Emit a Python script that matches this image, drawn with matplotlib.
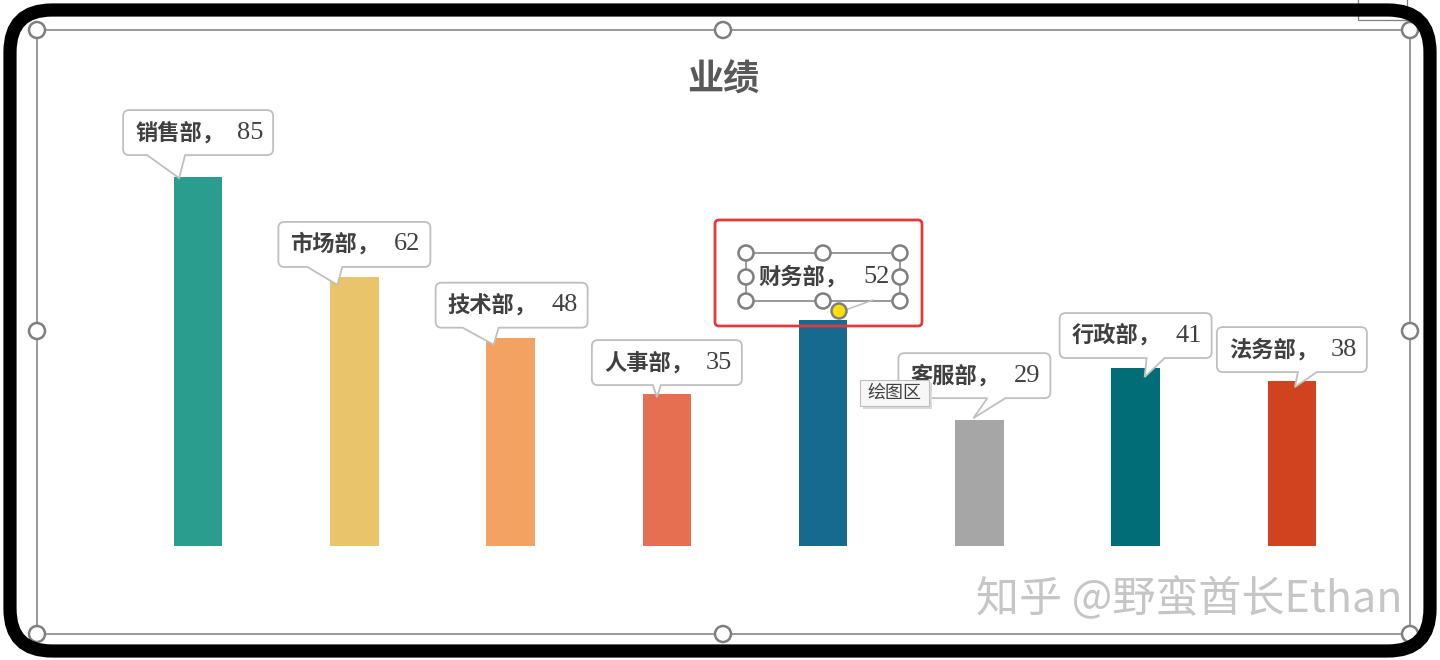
import matplotlib
matplotlib.use("Agg")
import matplotlib.pyplot as plt
from matplotlib.path import Path
from matplotlib.patches import PathPatch, Circle, Rectangle, FancyBboxPatch
from matplotlib import transforms

plt.rcParams['font.family'] = ['Noto Sans CJK SC', 'DejaVu Sans']

title = "业绩"
departments = ["销售部", "市场部", "技术部", "人事部", "财务部", "客服部", "行政部", "法务部"]
scores = [85, 62, 48, 35, 52, 29, 41, 38]
bar_colors = ["#2A9D8F", "#E9C46A", "#F4A261", "#E76F51",
              "#176A8F", "#A6A6A6", "#006D77", "#D1431F"]

# callout geometry in pixels, relative to the top centre of each bar
# (box left, box right, gap above bar, tail base left, tail base right, tip x, tip y)
callouts = [
    (-75, 75, 22, -51, -13, -19, -1),
    (-76, 76, 10, -47, -12, -17, -8),
    (-75, 77, 10, -48, -12, -17, -7),
    (-75, 75, 9, -14, -6, -10, -3),
    (-77, 77, 19, None, None, None, None),   # selected label, no box drawn
    (-81, 71, 22, 8, 26, -6, 2),
    (-76, 76, 10, 11, 29, 9, -9),
    (-75, 75, 9, 6, 25, 3, -6),
]
BOX_H = 45
TEXT_C = "#404040"
GREY = "#7F7F7F"


def callout_path(l, r, b, b0, b1, tx, ty, h=BOX_H, rad=6):
    t = b + h
    M, L, C, Z = Path.MOVETO, Path.LINETO, Path.CURVE3, Path.CLOSEPOLY
    verts = [(l + rad, b), (b0, b), (tx, ty), (b1, b), (r - rad, b),
             (r, b), (r, b + rad), (r, t - rad), (r, t), (r - rad, t),
             (l + rad, t), (l, t), (l, t - rad), (l, b + rad),
             (l, b), (l + rad, b), (l + rad, b)]
    codes = [M, L, L, L, L, C, C, L, C, C, L, C, C, L, C, C, Z]
    return Path(verts, codes)


fig = plt.figure(figsize=(14.4, 6.6), dpi=100)
fig.patch.set_facecolor("white")

ax = fig.add_axes([120 / 1440, 114 / 660, 1250 / 1440, 434 / 660])
x = list(range(len(departments)))
ax.bar(x, scores, width=0.31, color=bar_colors, zorder=2)
ax.set_xlim(-0.5, len(departments) - 0.5)
ax.set_ylim(0, 100)
ax.axis("off")

for i, (dep, v) in enumerate(zip(departments, scores)):
    l, r, b, b0, b1, tx, ty = callouts[i]
    if b0 is not None:
        tr = transforms.ScaledTranslation(i, v, ax.transData)
        pp = PathPatch(callout_path(l, r, b, b0, b1, tx, ty), transform=tr,
                       fc="white", ec="#BFBFBF", lw=1.3, zorder=4, clip_on=False)
        ax.add_patch(pp)
    h = 48 if b0 is None else BOX_H
    ax.annotate(dep + "，", xy=(i, v), xytext=(l + 12, b + h / 2),
                textcoords="offset pixels", ha="left", va="center",
                fontsize=16, fontweight="bold", color=TEXT_C,
                zorder=6, annotation_clip=False)
    ax.annotate(str(v), xy=(i, v), xytext=(r - 10, b + h / 2),
                textcoords="offset pixels", ha="right", va="center",
                fontsize=19, family=["Liberation Serif"], color=TEXT_C,
                zorder=6, annotation_clip=False)

# overlay in screen pixels for the chart frame and the editor decorations
ov = fig.add_axes([0, 0, 1, 1], zorder=5)
ov.set_xlim(0, 1440)
ov.set_ylim(660, 0)
ov.set_facecolor("none")
ov.axis("off")

ov.text(723, 80, title, ha="center", va="center", fontsize=26,
        fontweight="bold", color="#595959")

ov.add_patch(Rectangle((37, 30), 1373, 604, fill=False, ec=GREY, lw=1.1))
for hx, hy in [(37, 30), (723, 30), (1410, 30), (37, 331), (1410, 331),
               (37, 634), (723, 634), (1410, 634)]:
    ov.add_patch(Circle((hx, hy), 8, fc="white", ec=GREY, lw=1.8, zorder=3))

# selected data label (财务部)
ov.plot([746, 900, 900, 746, 746], [253, 253, 301, 301, 253], color=GREY, lw=1.1)
ov.plot([840, 873], [312, 300], color="#BFBFBF", lw=1.1)
for hx, hy in [(746, 253), (823, 253), (900, 253), (746, 277), (900, 277),
               (746, 301), (823, 301), (900, 301)]:
    ov.add_patch(Circle((hx, hy), 7.5, fc="white", ec=GREY, lw=1.8, zorder=3))
ov.add_patch(Circle((839, 311), 7.5, fc="#FFE000", ec=GREY, lw=1.8, zorder=3))
ov.add_patch(FancyBboxPatch((715, 220), 207, 106,
                            boxstyle="round,pad=0,rounding_size=4",
                            fill=False, ec="#E0393E", lw=2.0))

# tooltip
ov.add_patch(Rectangle((863, 383), 69, 26, fc="#D9D9D9", ec="none", zorder=3))
ov.add_patch(Rectangle((860, 380), 69, 26, fc="#F7F7F7", ec="#BFBFBF", lw=0.8, zorder=3))
ov.text(894.5, 393, "绘图区", ha="center", va="center", fontsize=13,
        color=TEXT_C, zorder=4)

# watermark
ov.text(976, 600, "知乎 @野蛮酋长Ethan", ha="left", va="center", fontsize=31,
        color="#C6C6C6", zorder=4)

# small element peeking at the top right
ov.plot([1358, 1358, 1407, 1407], [0, 20, 20, 0], color=GREY, lw=0.9)

# black rounded screenshot frame
ov.add_patch(FancyBboxPatch((10, 10), 1420, 641,
                            boxstyle="round,pad=0,rounding_size=42",
                            fill=False, ec="black", lw=9.5, zorder=6))

fig.savefig("out.png", dpi=100)
